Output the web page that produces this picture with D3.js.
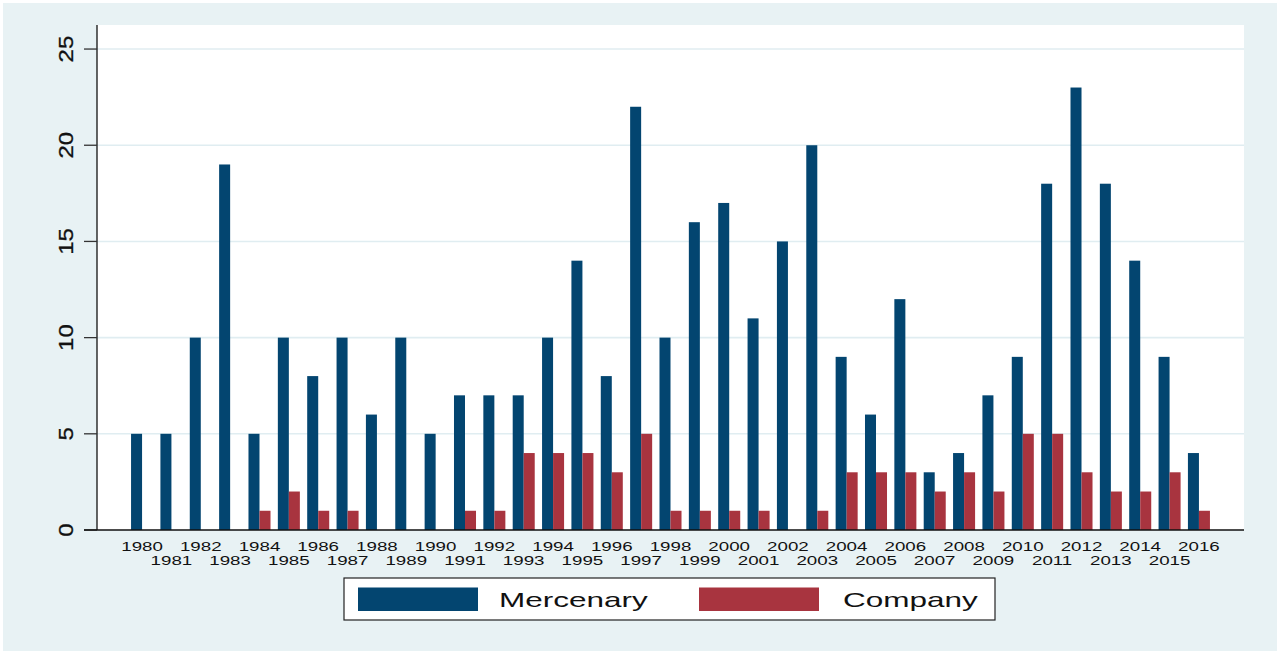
<!DOCTYPE html>
<html>
<head>
<meta charset="utf-8">
<script src="https://cdn.jsdelivr.net/npm/d3@7"></script>
<style>
  body { margin: 0; background: #fff; }
  svg { display: block; font-family: "Liberation Sans", Arial, sans-serif; }
</style>
</head>
<body>
<div class="svg-mount"></div>
<script>
const years = d3.range(1980, 2017).map(String);
const mercenary = [5, 5, 10, 19, 5, 10, 8, 10, 6, 10, 5, 7, 7, 7, 10, 14, 8, 22, 10, 16,
  17, 11, 15, 20, 9, 6, 12, 3, 4, 7, 9, 18, 23, 18, 14, 9, 4];
const company = [0, 0, 0, 0, 1, 2, 1, 1, 0, 0, 0, 1, 1, 4, 4, 4, 3, 5, 1, 1,
  1, 1, 0, 1, 3, 3, 3, 2, 3, 2, 5, 5, 3, 2, 2, 3, 1];
const seriesNames = ["Mercenary", "Company"];
const yTicks = [0, 5, 10, 15, 20, 25];

const colors = { Mercenary: "#034570", Company: "#a8343f" };
const bgColor = "#e8f2f4";

const actual_width = 1280;
const actual_height = 654;
const plot = { left: 97, right: 1244, top: 25, bottom: 530 };

// stretch text along its own direction, like the stata export
function stretch(sel, factor) {
  sel.each(function () {
    const len = this.getComputedTextLength();
    d3.select(this)
      .attr("textLength", len * factor)
      .attr("lengthAdjust", "spacingAndGlyphs");
  });
}

const svg = d3
  .select(".svg-mount")
  .append("svg")
  .attr("width", actual_width)
  .attr("height", actual_height);

svg.append("rect")
  .attr("x", 3).attr("y", 3)
  .attr("width", actual_width - 6).attr("height", actual_height - 6)
  .attr("fill", bgColor);

svg.append("rect")
  .attr("x", plot.left).attr("y", plot.top)
  .attr("width", plot.right - plot.left).attr("height", plot.bottom - plot.top)
  .attr("fill", "#fff");

const x = d3.scaleBand()
  .domain(years)
  .range([plot.left, plot.right])
  .paddingInner(0.25)
  .paddingOuter(1.16);

const xSub = d3.scaleBand()
  .domain(seriesNames)
  .range([0, x.bandwidth()]);

const y = d3.scaleLinear()
  .domain([0, 26.25])
  .range([plot.bottom, plot.top]);

// gridlines
svg.append("g")
  .selectAll("line")
  .data(yTicks.filter((d) => d > 0))
  .join("line")
  .attr("x1", plot.left).attr("x2", plot.right)
  .attr("y1", (d) => y(d)).attr("y2", (d) => y(d))
  .attr("stroke", "#e0edf1")
  .attr("stroke-width", 1.6);

// bars
const rows = years.map((yr, i) => ({ year: yr, Mercenary: mercenary[i], Company: company[i] }));

svg.append("g")
  .selectAll("g")
  .data(rows)
  .join("g")
  .attr("transform", (d) => `translate(${x(d.year)},0)`)
  .selectAll("rect")
  .data((d) => seriesNames.map((s) => ({ key: s, value: d[s] })))
  .join("rect")
  .attr("x", (d) => xSub(d.key))
  .attr("width", xSub.bandwidth())
  .attr("y", (d) => y(d.value))
  .attr("height", (d) => y(0) - y(d.value))
  .attr("fill", (d) => colors[d.key]);

// y axis
const yAxis = svg.append("g").attr("transform", `translate(${plot.left},0)`);
yAxis.append("line")
  .attr("y1", plot.top).attr("y2", plot.bottom)
  .attr("stroke", "#111").attr("stroke-width", 1.3);
yAxis.selectAll("line.tick")
  .data(yTicks)
  .join("line")
  .attr("class", "tick")
  .attr("x1", -13).attr("x2", 0)
  .attr("y1", (d) => y(d)).attr("y2", (d) => y(d))
  .attr("stroke", "#333").attr("stroke-width", 1.3);
yAxis.selectAll("text")
  .data(yTicks)
  .join("text")
  .attr("transform", (d) => `translate(-24,${y(d)}) rotate(-90)`)
  .attr("text-anchor", "middle")
  .attr("font-size", 20)
  .attr("fill", "#111")
  .attr("stroke", "#111")
  .attr("stroke-width", 0.3)
  .text((d) => d)
  .call(stretch, 1.2);

// x axis
svg.append("line")
  .attr("x1", plot.left - 13).attr("x2", plot.right)
  .attr("y1", plot.bottom).attr("y2", plot.bottom)
  .attr("stroke", "#111").attr("stroke-width", 1.3);

svg.append("g")
  .selectAll("text")
  .data(years)
  .join("text")
  .attr("x", (d) => x(d) + x.bandwidth() / 2)
  .attr("y", (d, i) => (i % 2 === 0 ? plot.bottom + 21 : plot.bottom + 35))
  .attr("text-anchor", "middle")
  .attr("font-size", 13.2)
  .attr("fill", "#111")
  .text((d) => d)
  .call(stretch, 1.42);

// legend
const legend = svg.append("g").attr("transform", "translate(344,578)");
legend.append("rect")
  .attr("width", 651).attr("height", 42)
  .attr("fill", "#fff").attr("stroke", "#222").attr("stroke-width", 1.2);

const items = legend.selectAll("g")
  .data(seriesNames)
  .join("g")
  .attr("transform", (d, i) => `translate(${14 + i * 341},0)`);
items.append("rect")
  .attr("y", 9.5).attr("width", 120).attr("height", 23.5)
  .attr("fill", (d) => colors[d]);
items.append("text")
  .attr("x", (d, i) => (i === 0 ? 141 : 144))
  .attr("y", 29)
  .attr("font-size", 21)
  .attr("fill", "#111")
  .text((d) => d)
  .call(stretch, 1.5);
</script>
</body>
</html>
